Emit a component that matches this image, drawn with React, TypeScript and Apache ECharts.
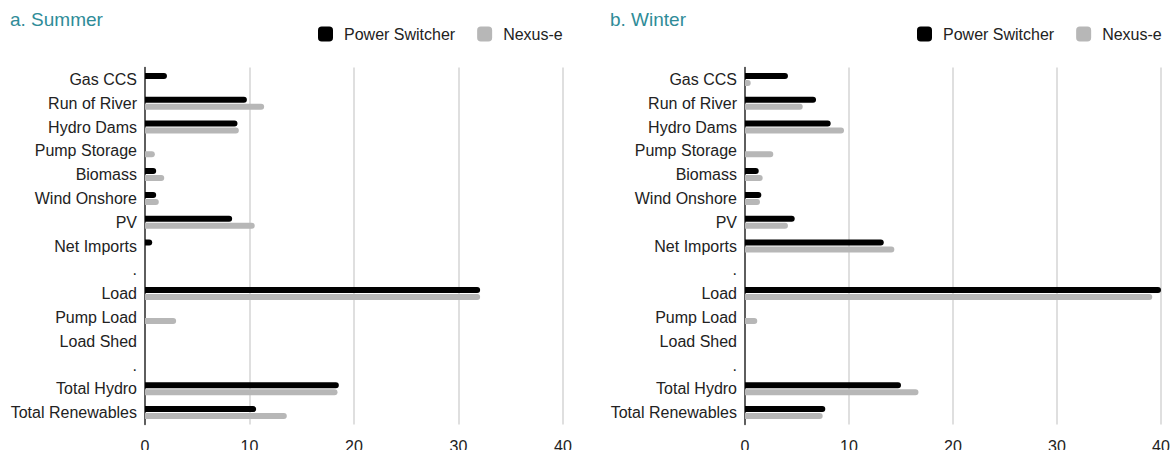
import React, { useEffect, useRef } from "react";
import * as echarts from "echarts";

const categories = [
  "Gas CCS",
  "Run of River",
  "Hydro Dams",
  "Pump Storage",
  "Biomass",
  "Wind Onshore",
  "PV",
  "Net Imports",
  ".",
  "Load",
  "Pump Load",
  "Load Shed",
  ".",
  "Total Hydro",
  "Total Renewables",
];

const seriesNames = ["Power Switcher", "Nexus-e"];
const panelTitles = ["a. Summer", "b. Winter"];
const xTicks = [0, 10, 20, 30, 40];

const summerPowerSwitcher = [2.1, 9.75, 8.85, 0, 1.07, 1.07, 8.34, 0.69, 0, 32.07, 0, 0, 0, 18.55, 10.64];
const summerNexus = [0, 11.4, 8.98, 0.94, 1.84, 1.32, 10.5, 0, 0, 32.07, 2.98, 0, 0, 18.42, 13.57];
const winterPowerSwitcher = [4.13, 6.83, 8.24, 0, 1.32, 1.57, 4.78, 13.34, 0, 40, 0, 0, 0, 15.0, 7.72];
const winterNexus = [0.55, 5.55, 9.52, 2.72, 1.7, 1.44, 4.13, 14.36, 0, 39.16, 1.18, 0, 0, 16.68, 7.47];

const BLACK = "#000000";
const GRAY = "#b7b7b7";
const TEAL = "#2f8c98";
const FONT = "'Liberation Sans', Arial, sans-serif";

export default function App() {
  const ref = useRef<HTMLDivElement>(null);

  useEffect(() => {
    if (!ref.current) return;
    const chart = echarts.init(ref.current, undefined, { renderer: "svg" });

    const grids = [
      { left: 145, top: 67.5, width: 418, height: 357, outerBoundsMode: "none", containLabel: false },
      { left: 745, top: 67.5, width: 416, height: 357, outerBoundsMode: "none", containLabel: false },
    ];

    const xAxis = grids.map((_, i) => ({
      type: "value",
      gridIndex: i,
      min: xTicks[0],
      max: xTicks[xTicks.length - 1],
      interval: xTicks[1] - xTicks[0],
      axisLine: { show: false },
      axisTick: { show: false },
      splitLine: { show: true, lineStyle: { color: "#d4d4d4", width: 1.5 } },
      axisLabel: { color: "#222", fontSize: 16, fontFamily: FONT, margin: 14 },
    }));

    const yAxis = grids.map((_, i) => ({
      type: "category",
      gridIndex: i,
      inverse: true,
      data: categories,
      axisLine: { show: true, lineStyle: { color: "#333", width: 1.5 } },
      axisTick: { show: false },
      axisLabel: { color: "#222", fontSize: 16, fontFamily: FONT, margin: 8 },
    }));

    const data = [
      [summerPowerSwitcher, summerNexus],
      [winterPowerSwitcher, winterNexus],
    ];

    const series: any[] = [];
    data.forEach((pair, gi) => {
      pair.forEach((vals, si) => {
        series.push({
          type: "bar",
          name: seriesNames[si],
          xAxisIndex: gi,
          yAxisIndex: gi,
          data: vals,
          barWidth: 6,
          barGap: "17%",
          itemStyle: { color: si === 0 ? BLACK : GRAY, borderRadius: [0, 3, 3, 0] },
        });
      });
    });

    chart.setOption({
      animation: false,
      color: [BLACK, GRAY],
      title: panelTitles.map((t, i) => ({
        text: t,
        left: i === 0 ? 10 : 610,
        top: 10,
        textStyle: { color: TEAL, fontSize: 19, fontWeight: "normal", fontFamily: FONT },
        padding: 0,
      })),
      legend: [0, 1].map((i) => ({
        data: seriesNames,
        left: i === 0 ? 318 : 917,
        top: 26,
        itemWidth: 15,
        itemHeight: 15,
        itemGap: 22,
        icon: "roundRect",
        padding: 0,
        textStyle: { color: "#222", fontSize: 16, fontFamily: FONT, padding: [0, 0, 0, 6] },
      })),
      grid: grids,
      xAxis,
      yAxis,
      series,
    });

    return () => chart.dispose();
  }, []);

  return (
    <div
      ref={ref}
      style={{ position: "absolute", left: 0, top: 0, width: 1171, height: 450, background: "#fff" }}
    />
  );
}
